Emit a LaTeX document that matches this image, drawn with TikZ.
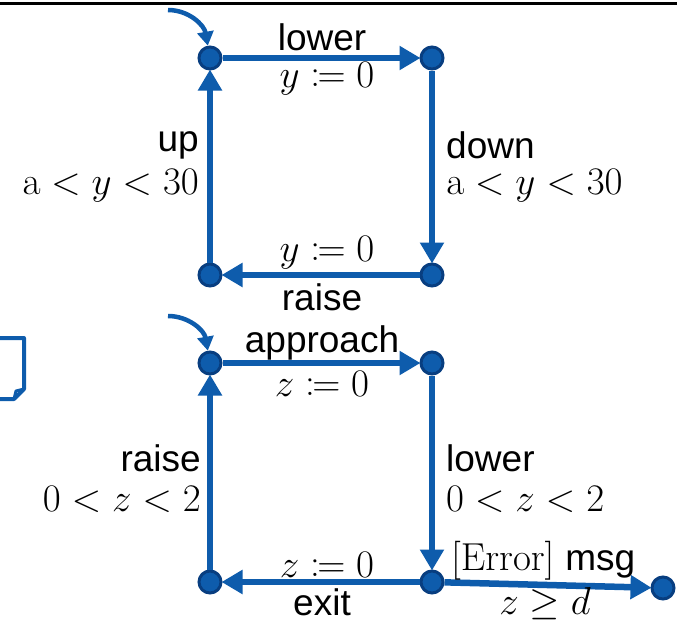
\RequirePackage{fix-cm}
\documentclass[tikz,border=0pt]{standalone}
\usepackage[no-math]{fontspec}
\setmainfont{Liberation Sans}
\usepackage{mathtools}
\usetikzlibrary{arrows.meta}
\definecolor{ublue}{RGB}{14,92,172}
\definecolor{udark}{RGB}{8,62,128}
\tikzset{
  state/.style={circle,fill=ublue,draw=udark,line width=3pt,minimum size=22pt,inner sep=0pt},
  edge/.style={ublue,line width=6.5pt,-{Triangle[length=21pt,width=23pt]},shorten >=-1pt},
  init/.style={ublue,line width=4.5pt,-{Triangle[length=14pt,width=16pt]}},
  lab/.style={inner sep=0pt,font=\fontsize{37}{40}\selectfont},
  mlab/.style={inner sep=0pt,font=\fontsize{39}{42}\selectfont},
}
\begin{document}
\begin{tikzpicture}[x=1pt,y=-1pt]
\useasboundingbox (0,0) rectangle (677,622);
\draw[line width=3pt] (0,3) -- (677,3);
% document shape
\draw[ublue,line width=4pt,line join=round] (-5,338) -- (24,338) -- (24,389) -- (14,399) -- (-5,399);
\draw[ublue,line width=3pt,line join=round] (14,399) -- (16,391) -- (24,389);
% top automaton
\node[state] (A) at (210,58) {};
\node[state] (B) at (432,58) {};
\node[state] (C) at (210,275) {};
\node[state] (D) at (432,275) {};
\coordinate (ia) at (168,10);
\draw[init] (ia) to[out=0,in=100] (A);
\draw[edge] (A) -- (B);
\draw[edge] (B) -- (D);
\draw[edge] (D) -- (C);
\draw[edge] (C) -- (A);
\node[lab] (l1) at (322,37) {lower};
\node[mlab] (l2) at (327,79) {$y\coloneqq 0$};
\node[lab,anchor=east] (l3) at (199,145) {up};
\node[mlab,anchor=east] (l4) at (199,186) {$\mathrm{a}<y<30$};
\node[lab,anchor=west] (l5) at (446,145) {down};
\node[mlab,anchor=west] (l6) at (446,186) {$\mathrm{a}<y<30$};
\node[mlab] (l7) at (327,253) {$y\coloneqq 0$};
\node[lab] (l8) at (322,297) {raise};
% bottom automaton
\node[state] (E) at (210,363) {};
\node[state] (F) at (432,363) {};
\node[state] (G) at (210,582) {};
\node[state] (H) at (432,582) {};
\node[state] (I) at (663,588) {};
\coordinate (ie) at (168,316);
\draw[init] (ie) to[out=0,in=100] (E);
\draw[edge] (E) -- (F);
\draw[edge] (F) -- (H);
\draw[edge] (H) -- (G);
\draw[edge] (G) -- (E);
\draw[edge] (H) -- (I);
\node[lab] (m1) at (322,343) {approach};
\node[mlab] (m2) at (322,384) {$z\coloneqq 0$};
\node[lab,anchor=east] (m3) at (201,458) {raise};
\node[mlab,anchor=east] (m4) at (201,499) {$0<z<2$};
\node[lab,anchor=west] (m5) at (446,458) {lower};
\node[mlab,anchor=west] (m6) at (446,499) {$0<z<2$};
\node[mlab] (m7) at (327,565) {$z\coloneqq 0$};
\node[lab] (m8) at (322,602) {exit};
\node[mlab,anchor=west] (m9) at (451,561) {$\mathrm{[Error]}$ {\fontsize{37}{40}\selectfont msg}};
\node[mlab] (m10) at (545,604) {$z\geq d$};
\end{tikzpicture}
\end{document}
